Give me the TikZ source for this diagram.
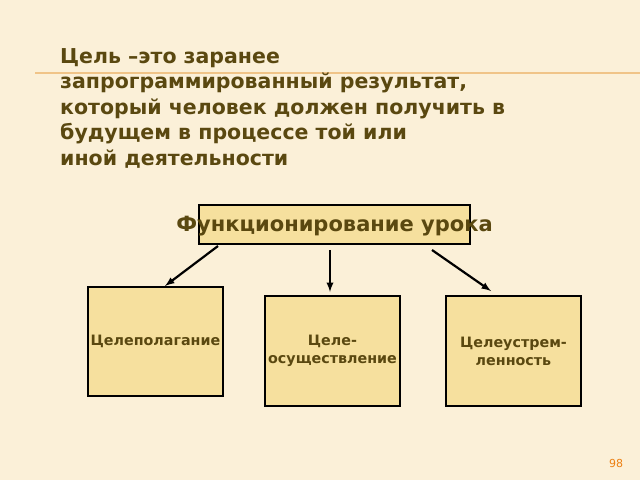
\documentclass[tikz,border=0pt]{standalone}
\usepackage{fontspec}
\setmainfont{DejaVu Sans}
\begin{document}
\begin{tikzpicture}[x=1pt,y=-1pt,
  box/.style={draw=black,line width=2.5pt,fill=boxc,inner sep=0pt},
  lbl/.style={font=\bfseries\fontsize{14.3}{18}\selectfont,text=txt,align=center},
  arr/.style={draw=black,line width=2.2pt,-latex}]
\definecolor{bg}{HTML}{FBF0D8}
\definecolor{boxc}{HTML}{F6E09E}
\definecolor{txt}{HTML}{5A4810}
\definecolor{rule}{HTML}{F0C488}
\fill[bg] (0,0) rectangle (640,480);
\useasboundingbox (0,0) rectangle (640,480);
\coordinate (r1) at (35,73); \coordinate (r2) at (640,73);
\draw[rule,line width=1.2pt] (r1) -- (r2);
\node[anchor=north west,inner sep=0pt,align=left,text=txt,font=\bfseries\fontsize{20.5}{25.5}\selectfont] (title) at (60,48)
{Цель –это заранее\\запрограммированный результат,\\который человек должен получить в\\будущем в процессе той или\\иной деятельности};
\node[box,minimum width=271pt,minimum height=39pt] (top) at (334.5,224.5) {};
\node[text=txt,font=\bfseries\fontsize{21}{25}\selectfont] (toptxt) at (334.5,226) {Функционирование урока};
\node[box,minimum width=135pt,minimum height=109pt] (b1) at (155.5,341.5) {};
\node[box,minimum width=135pt,minimum height=110pt] (b2) at (332.5,351) {};
\node[box,minimum width=135pt,minimum height=110pt] (b3) at (513.5,351) {};
\node[lbl] (t1) at (b1) {Целеполагание};
\node[lbl] (t2) at (b2) {Целе-\\осуществление};
\node[lbl] (t3) at (b3) {Целеустрем-\\ленность};
\coordinate (a1) at (218,246); \coordinate (e1) at (165,286);
\coordinate (a2) at (330,250); \coordinate (e2) at (330,292);
\coordinate (a3) at (432,250); \coordinate (e3) at (491,291);
\draw[arr] (a1) -- (e1);
\draw[arr] (a2) -- (e2);
\draw[arr] (a3) -- (e3);
\node[text=orange!70!brown,font=\fontsize{11}{13}\selectfont] (pg) at (616,463) {98};
\end{tikzpicture}
\end{document}
